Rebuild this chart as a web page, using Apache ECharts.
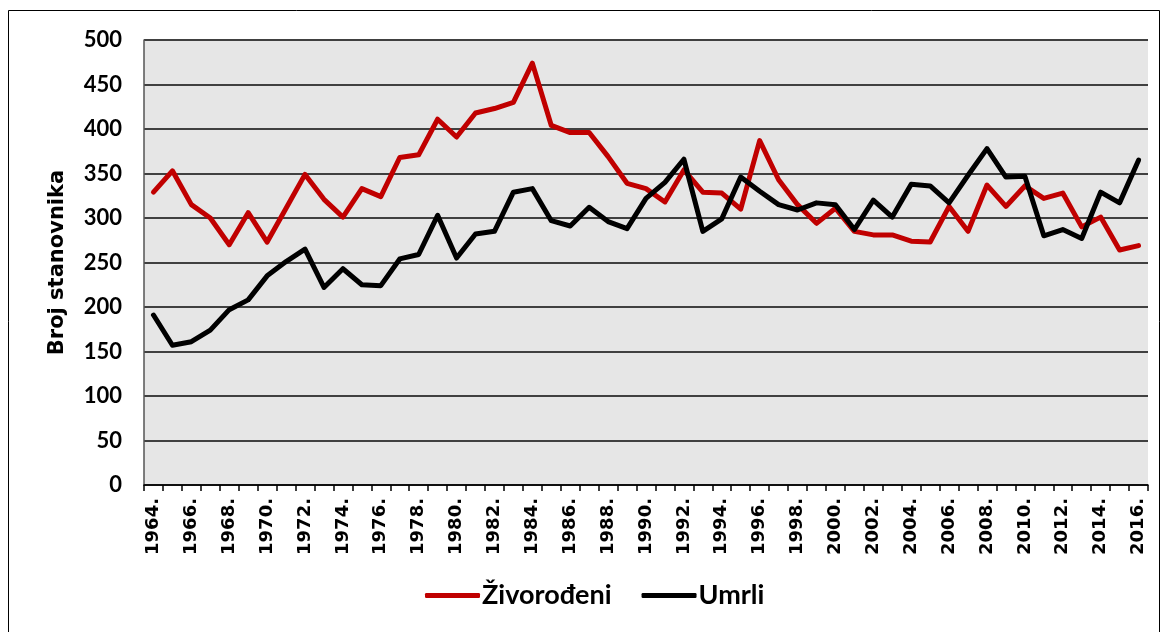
<!DOCTYPE html>
<html>
<head>
<meta charset="utf-8">
<script src="https://cdn.jsdelivr.net/npm/echarts@6/dist/echarts.min.js"></script>
<style>
  html, body { margin: 0; padding: 0; background: #fff; }
  #chart { width: 1163px; height: 632px; }
</style>
</head>
<body>
<div id="chart"></div>
<script>
// godine
const years = [];
for (let y = 1964; y <= 2016; y++) years.push(y + ".");

// zivorodjeni
const births = [
  329, 353, 315, 300, 270, 306, 273, 311, 349, 321,
  301, 333, 324, 368, 371, 411, 391, 418, 423, 430,
  474, 404, 396, 396, 369, 339, 333, 318, 354, 329,
  328, 310, 387, 343, 315, 294, 311, 285, 281, 281,
  274, 273, 313, 285, 337, 313, 336, 322, 328, 290,
  301, 264, 269
];

// umrli
const deaths = [
  191, 157, 161, 174, 197, 208, 235, 251, 265, 222,
  243, 225, 224, 254, 259, 303, 255, 282, 285, 329,
  333, 297, 291, 312, 296, 288, 322, 340, 366, 285,
  299, 346, 330, 315, 309, 317, 315, 287, 320, 301,
  338, 336, 317, 348, 378, 346, 347, 280, 287, 277,
  329, 317, 365
];

const yTicks = [0, 500, 50];

const font = "Lato, 'Open Sans', sans-serif";
const wide = "'DejaVu Sans', sans-serif";
const chart = echarts.init(document.getElementById("chart"));

let option = {
  backgroundColor: "#fff",
  animation: false,
  graphic: [{
    type: "rect",
    shape: { x: 8.5, y: 10.5, width: 1151, height: 640 },
    style: { fill: "none", stroke: "#000", lineWidth: 1 },
    silent: true
  }],
  grid: {
    left: 144, top: 40, right: 15, bottom: 147,
    show: true, backgroundColor: "#e6e6e6", borderWidth: 0
  },
  legend: {
    bottom: 18,
    left: 420,
    itemWidth: 55,
    itemHeight: 5,
    itemGap: 30,
    icon: "roundRect",
    textStyle: { fontFamily: font, fontSize: 27, fontWeight: "bold", color: "#000", padding: [0, 0, 0, -3] },
    data: ["Živorođeni", "Umrli"]
  },
  xAxis: {
    type: "category",
    data: years,
    boundaryGap: true,
    axisLine: { lineStyle: { color: "#000", width: 1.5 } },
    axisTick: { show: true, interval: 0, length: 6, lineStyle: { color: "#000", width: 1.5 } },
    axisLabel: {
      interval: 1,
      rotate: 90,
      margin: 13,
      fontFamily: wide,
      fontSize: 18,
      fontWeight: "bold",
      color: "#000"
    },
    splitLine: { show: false }
  },
  yAxis: {
    type: "value",
    min: yTicks[0],
    max: yTicks[1],
    interval: yTicks[2],
    name: "Broj stanovnika",
    nameLocation: "middle",
    nameGap: 76,
    nameTextStyle: { fontFamily: wide, fontSize: 21, fontWeight: "bold", color: "#000" },
    axisLine: { show: true, lineStyle: { color: "#555", width: 1.5 } },
    axisTick: { show: false },
    axisLabel: {
      margin: 22,
      fontFamily: font,
      fontSize: 22,
      fontWeight: "bold",
      color: "#000"
    },
    splitLine: { lineStyle: { color: "#404040", width: 2 } }
  },
  series: [
    {
      name: "Živorođeni",
      type: "line",
      data: births,
      symbol: "none",
      color: "#c00000",
      lineStyle: { width: 5, color: "#c00000", join: "round", cap: "round" }
    },
    {
      name: "Umrli",
      type: "line",
      data: deaths,
      symbol: "none",
      color: "#000",
      lineStyle: { width: 5, color: "#000", join: "round", cap: "round" }
    }
  ]
};
chart.setOption(option);
</script>
</body>
</html>
